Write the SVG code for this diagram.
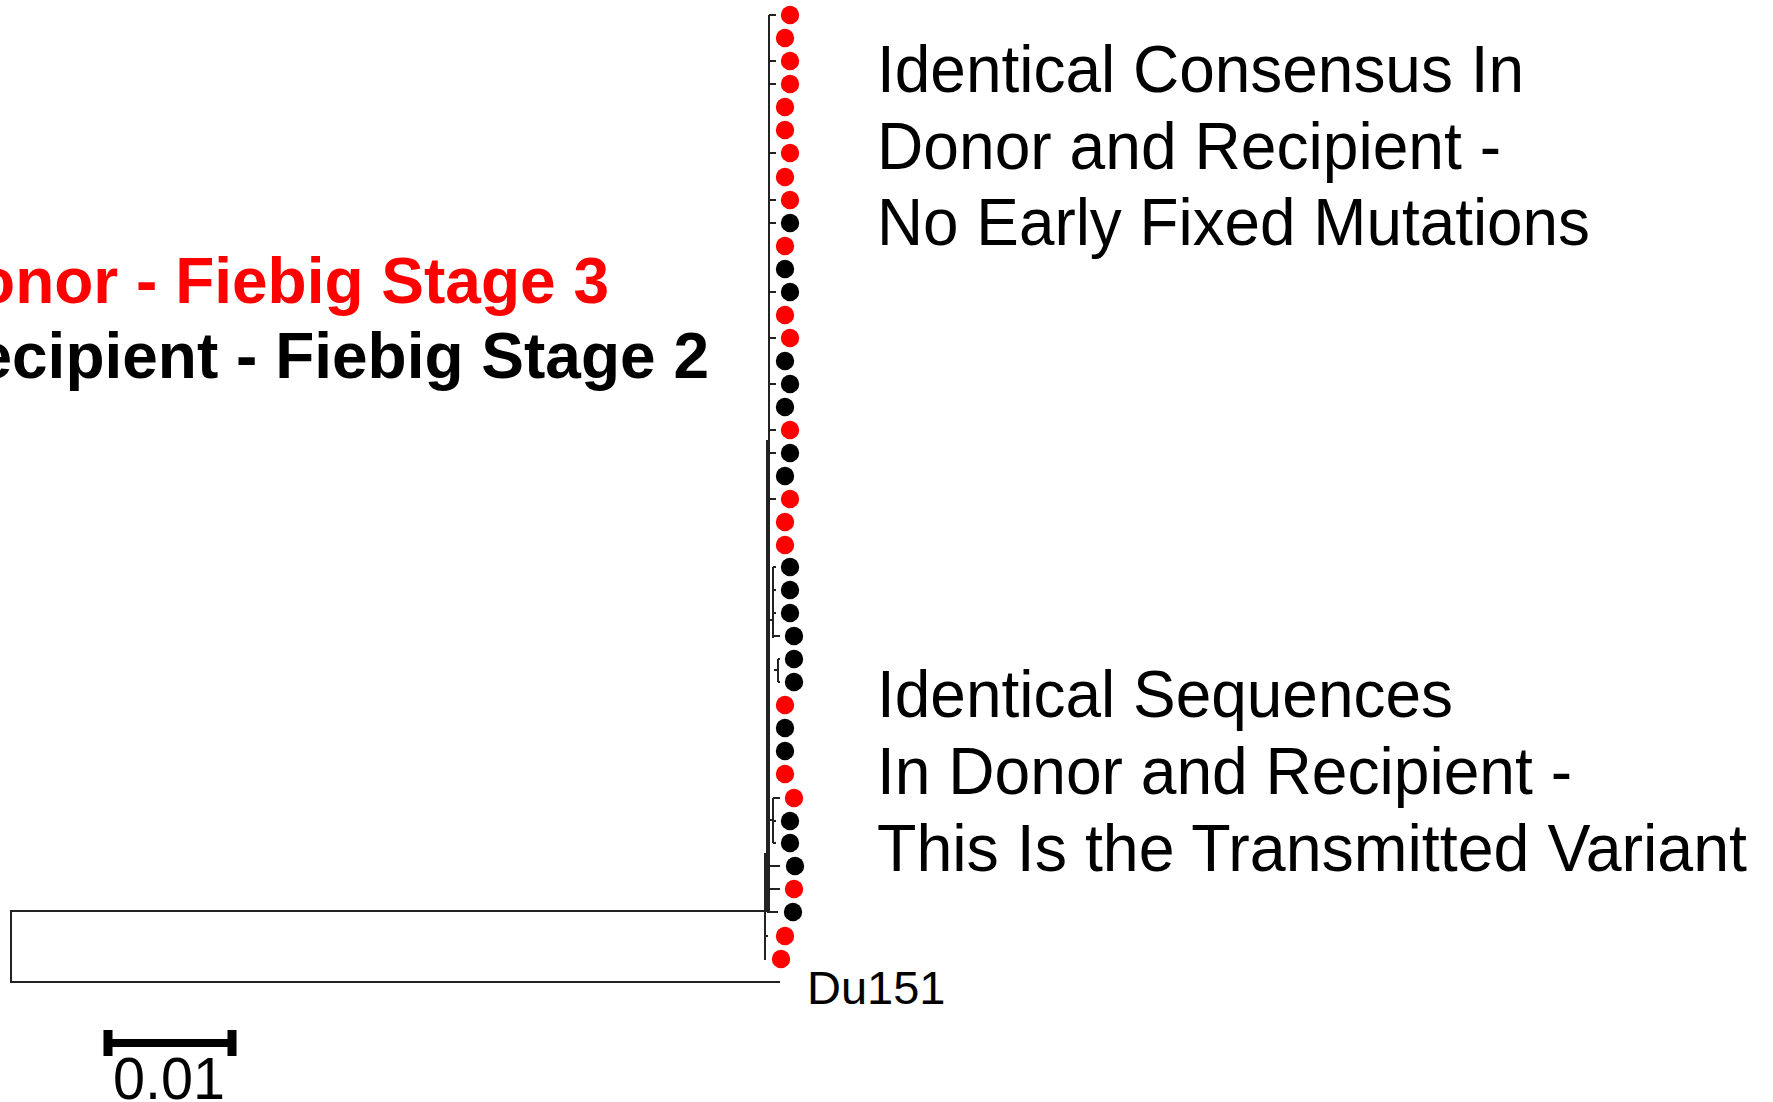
<svg xmlns="http://www.w3.org/2000/svg" width="1773" height="1102" viewBox="0 0 1773 1102">
<style>
.br{stroke:#222;stroke-width:2;fill:none}
.r{fill:#ff0000}
.k{fill:#000}
.lbl{font-family:"Liberation Sans",Arial,sans-serif;font-size:66px;fill:#000}
.big{font-family:"Liberation Sans",Arial,sans-serif;font-size:64px;font-weight:bold;text-anchor:end}
.small{font-family:"Liberation Sans",Arial,sans-serif;font-size:47px;fill:#000}
</style>
<rect width="1773" height="1102" fill="#fff"/>
<g id="connectors">
<path class="br" d="M11 911 H766 M11 910 V983 M11 982 H780"/>
<path class="br" d="M769 15 V912"/>
<path class="br" d="M769 15 H776 M769 61 H776 M769 84 H776 M769 153 H776 M769 200 H776 M769 223 H776 M769 292 H776 M769 338 H776 M769 384 H776 M769 430 H776 M769 453 H776 M769 499 H776"/>
<path class="br" d="M767 440 V912"/>
<path class="br" d="M773 567 V638 M769 620 H773 M773 567 H776 M773 590 H776 M773 613 H776 M773 636 H780 M778 659 V682 M774 670 H778 M778 659 H780 M778 682 H780"/>
<path class="br" d="M773 798 V843 M769 820 H773 M773 798 H780 M773 821 H776 M773 843 H776"/>
<path class="br" d="M765 853 V960 M767 866 H780 M768 889 H780 M767 912 H778 M765 936 H768"/>
</g>
<g id="scale">
<path d="M104 1043 H236" stroke="#000" stroke-width="8"/>
<path d="M108 1030 V1056 M232 1030 V1056" stroke="#000" stroke-width="9"/>
<text class="small" x="113" y="1099" textLength="112" lengthAdjust="spacingAndGlyphs" style="font-size:60px">0.01</text>
</g>
<g id="tips">
<circle class="r" cx="790" cy="15" r="9.2"/>
<circle class="r" cx="785" cy="38" r="9.2"/>
<circle class="r" cx="790" cy="61" r="9.2"/>
<circle class="r" cx="790" cy="84" r="9.2"/>
<circle class="r" cx="785" cy="107" r="9.2"/>
<circle class="r" cx="785" cy="130" r="9.2"/>
<circle class="r" cx="790" cy="153" r="9.2"/>
<circle class="r" cx="785" cy="177" r="9.2"/>
<circle class="r" cx="790" cy="200" r="9.2"/>
<circle class="k" cx="790" cy="223" r="9.2"/>
<circle class="r" cx="785" cy="246" r="9.2"/>
<circle class="k" cx="785" cy="269" r="9.2"/>
<circle class="k" cx="790" cy="292" r="9.2"/>
<circle class="r" cx="785" cy="315" r="9.2"/>
<circle class="r" cx="790" cy="338" r="9.2"/>
<circle class="k" cx="785" cy="361" r="9.2"/>
<circle class="k" cx="790" cy="384" r="9.2"/>
<circle class="k" cx="785" cy="407" r="9.2"/>
<circle class="r" cx="790" cy="430" r="9.2"/>
<circle class="k" cx="790" cy="453" r="9.2"/>
<circle class="k" cx="785" cy="476" r="9.2"/>
<circle class="r" cx="790" cy="499" r="9.2"/>
<circle class="r" cx="785" cy="522" r="9.2"/>
<circle class="r" cx="785" cy="545" r="9.2"/>
<circle class="k" cx="790" cy="567" r="9.2"/>
<circle class="k" cx="790" cy="590" r="9.2"/>
<circle class="k" cx="790" cy="613" r="9.2"/>
<circle class="k" cx="794" cy="636" r="9.2"/>
<circle class="k" cx="794" cy="659" r="9.2"/>
<circle class="k" cx="794" cy="682" r="9.2"/>
<circle class="r" cx="785" cy="705" r="9.2"/>
<circle class="k" cx="785" cy="728" r="9.2"/>
<circle class="k" cx="785" cy="751" r="9.2"/>
<circle class="r" cx="785" cy="774" r="9.2"/>
<circle class="r" cx="794" cy="798" r="9.2"/>
<circle class="k" cx="790" cy="821" r="9.2"/>
<circle class="k" cx="790" cy="843" r="9.2"/>
<circle class="k" cx="795" cy="866" r="9.2"/>
<circle class="r" cx="794" cy="889" r="9.2"/>
<circle class="k" cx="793" cy="912" r="9.2"/>
<circle class="r" cx="785" cy="936" r="9.2"/>
<circle class="r" cx="781" cy="959" r="9.2"/>
</g>
<g id="du151"><text class="small" x="807" y="1004">Du151</text></g>
<g id="legend">
<text class="big" x="609" y="303" fill="#ff0000">Donor - Fiebig Stage 3</text>
<text class="big" x="709" y="378" fill="#000">Recipient - Fiebig Stage 2</text>
</g>
<g id="note-consensus">
<text class="lbl" x="877" y="92" textLength="647" lengthAdjust="spacingAndGlyphs">Identical Consensus In</text>
<text class="lbl" x="877" y="169" textLength="624" lengthAdjust="spacingAndGlyphs">Donor and Recipient -</text>
<text class="lbl" x="877" y="245" textLength="713" lengthAdjust="spacingAndGlyphs">No Early Fixed Mutations</text>
</g>
<g id="note-sequences">
<text class="lbl" x="877" y="717" textLength="576" lengthAdjust="spacingAndGlyphs">Identical Sequences</text>
<text class="lbl" x="877" y="794" textLength="695" lengthAdjust="spacingAndGlyphs">In Donor and Recipient -</text>
<text class="lbl" x="877" y="871" textLength="870" lengthAdjust="spacingAndGlyphs">This Is the Transmitted Variant</text>
</g>
</svg>
